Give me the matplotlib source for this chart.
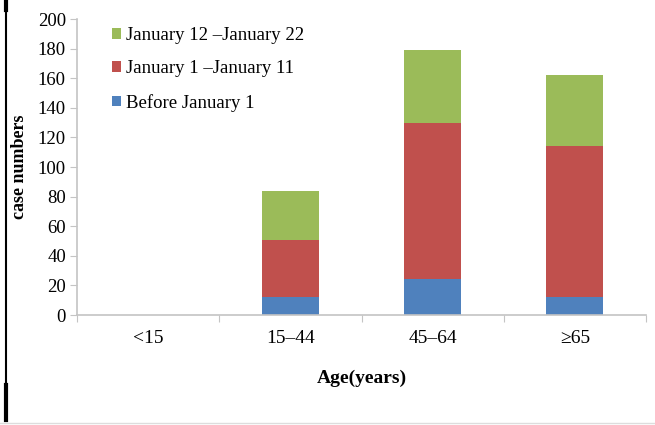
import matplotlib.pyplot as plt
from matplotlib.lines import Line2D
import numpy as np

# Data
age_groups = ['<15', '15\u201344', '45\u201364', '\u226565']
before_jan1 = [0, 12, 24, 12]
jan1_jan11 = [0, 39, 106, 102]
jan12_jan22 = [0, 33, 49, 48]

BLUE = '#4f81bd'
RED = '#c0504d'
GREEN = '#9bbb59'
AXIS_GREY = '#c4c4c4'

plt.rcParams['font.family'] = ['Liberation Serif', 'DejaVu Serif']

fig = plt.figure(figsize=(6.55, 4.25), dpi=100)
ax = fig.add_axes([77 / 655, 1 - 315 / 425, (646 - 77) / 655, (315 - 19) / 425])

x = np.arange(len(age_groups))
w = 0.40
b1 = ax.bar(x, before_jan1, w, color=BLUE, label='Before January 1')
bottom2 = np.array(before_jan1)
b2 = ax.bar(x, jan1_jan11, w, bottom=bottom2, color=RED, label='January 1 \u2013January 11')
bottom3 = bottom2 + np.array(jan1_jan11)
b3 = ax.bar(x, jan12_jan22, w, bottom=bottom3, color=GREEN, label='January 12 \u2013January 22')

ax.set_xlim(-0.5, len(age_groups) - 0.5)
ax.set_ylim(0, 200)
ax.set_yticks(range(0, 201, 20))

# category boundaries as tick marks, labels at centres
ax.set_xticks(np.arange(-0.5, len(age_groups), 1.0))
ax.set_xticklabels([])
ax.set_xticks(x, minor=True)
ax.set_xticklabels(age_groups, minor=True)
ax.tick_params(axis='x', which='major', direction='out', length=5, color=AXIS_GREY)
ax.tick_params(axis='x', which='minor', length=0, labelsize=14, pad=11)
ax.tick_params(axis='y', direction='out', length=5, color=AXIS_GREY, labelsize=13.5, pad=3)

for side in ('top', 'right'):
    ax.spines[side].set_visible(False)
for side in ('left', 'bottom'):
    ax.spines[side].set_color(AXIS_GREY)
    ax.spines[side].set_linewidth(1.2)

ax.set_ylabel('case numbers', fontsize=13, fontweight='bold', labelpad=7)
ax.set_xlabel('Age(years)', fontsize=14, fontweight='bold', labelpad=16)

leg = ax.legend(handles=[b3, b2, b1], loc='upper left', bbox_to_anchor=(0.048, 0.998),
                frameon=False, fontsize=13.5, handlelength=0.5, handleheight=0.5,
                handletextpad=0.25, labelspacing=0.87, borderaxespad=0)

# scan border artefacts of the original figure
fig.add_artist(Line2D([5.5 / 655, 5.5 / 655], [1 - 420 / 425, 1.0], color='black', lw=1.5,
                      transform=fig.transFigure))
fig.add_artist(Line2D([6 / 655, 6 / 655], [1 - 420 / 425, 1 - 385 / 425], color='black', lw=3,
                      transform=fig.transFigure))
fig.add_artist(Line2D([6 / 655, 6 / 655], [1 - 10 / 425, 1.0], color='black', lw=3,
                      transform=fig.transFigure))
fig.add_artist(Line2D([0, 1], [1 - 423 / 425, 1 - 423 / 425], color='#dddddd', lw=1,
                      transform=fig.transFigure))

fig.savefig('out.png', dpi=100)
